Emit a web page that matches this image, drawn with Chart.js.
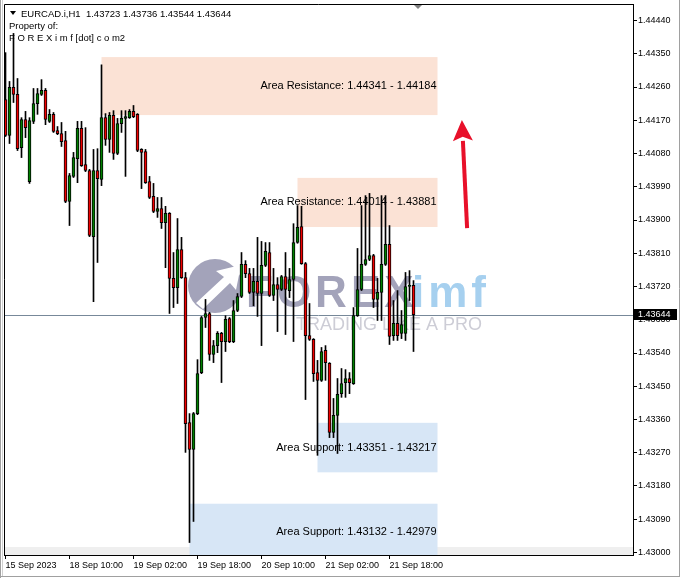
<!DOCTYPE html>
<html>
<head>
<meta charset="utf-8">
<script src="https://cdn.jsdelivr.net/npm/chart.js@4.4.0/dist/chart.umd.min.js"></script>
<style>
html, body { margin: 0; padding: 0; background: #fff; }
#wrap { width: 681px; height: 579px; position: relative; }
</style>
</head>
<body>
<div id="wrap"><canvas id="chartEurcad"></canvas></div>
<script>
var symbol = 'EURCAD.i,H1';

// H1 candles, 15 Sep 2023 18:00 .. 22 Sep
var opens = [1.44226, 1.44129, 1.44259, 1.44240, 1.44096, 1.44172, 1.44004, 1.44167, 1.44215, 1.44240,
    1.44251, 1.44167, 1.44186, 1.44142, 1.44134, 1.44115, 1.43950, 1.44018, 1.44066, 1.44148,
    1.44050, 1.44034, 1.43855, 1.44034, 1.44010, 1.44177, 1.44118, 1.44183, 1.44080, 1.44161,
    1.44175, 1.44177, 1.44194, 1.44186, 1.44091, 1.44085, 1.44004, 1.43964, 1.43923, 1.43931,
    1.43893, 1.43918, 1.43742, 1.43717, 1.43820, 1.43744, 1.43352, 1.43279, 1.43376, 1.43487,
    1.43636, 1.43647, 1.43536, 1.43560, 1.43593, 1.43571, 1.43633, 1.43571, 1.43655, 1.43693,
    1.43780, 1.43755, 1.43704, 1.43734, 1.43701, 1.43777, 1.43812, 1.43696, 1.43725, 1.43712,
    1.43747, 1.43709, 1.43739, 1.43839, 1.43882, 1.43782, 1.43587, 1.43577, 1.43487, 1.43466,
    1.43547, 1.43512, 1.43325, 1.43371, 1.43430, 1.43460, 1.43471, 1.43457, 1.43641, 1.43712,
    1.43780, 1.43793, 1.43804, 1.43685, 1.43704, 1.43780, 1.43834, 1.43587, 1.43620, 1.43593,
    1.43593, 1.43720, 1.43723];
var highs = [1.44353, 1.44275, 1.44405, 1.44283, 1.44177, 1.44194, 1.44177, 1.44256, 1.44256, 1.44280,
    1.44256, 1.44199, 1.44191, 1.44153, 1.44164, 1.44140, 1.44026, 1.44083, 1.44167, 1.44167,
    1.44150, 1.44037, 1.44091, 1.44093, 1.44320, 1.44188, 1.44191, 1.44196, 1.44175, 1.44196,
    1.44196, 1.44199, 1.44210, 1.44188, 1.44093, 1.44091, 1.44018, 1.43999, 1.43961, 1.43961,
    1.43937, 1.43920, 1.43812, 1.43904, 1.43853, 1.43758, 1.43376, 1.43379, 1.43522, 1.43639,
    1.43685, 1.43650, 1.43574, 1.43598, 1.43596, 1.43641, 1.43636, 1.43682, 1.43701, 1.43812,
    1.43790, 1.43769, 1.43769, 1.43853, 1.43842, 1.43839, 1.43839, 1.43769, 1.43744, 1.43750,
    1.43812, 1.43769, 1.43890, 1.43939, 1.43937, 1.43785, 1.43674, 1.43579, 1.43520, 1.43555,
    1.43560, 1.43514, 1.43417, 1.43471, 1.43498, 1.43495, 1.43487, 1.43663, 1.43823, 1.43939,
    1.43966, 1.43972, 1.43807, 1.43742, 1.43966, 1.43966, 1.43885, 1.43682, 1.43709, 1.43655,
    1.43758, 1.43763, 1.43736];
var lows = [1.44126, 1.44107, 1.44218, 1.44088, 1.44069, 1.44123, 1.43999, 1.44161, 1.44186, 1.44237,
    1.44158, 1.44164, 1.44137, 1.44131, 1.44099, 1.43947, 1.43885, 1.44015, 1.44001, 1.44045,
    1.44031, 1.43855, 1.43679, 1.43785, 1.43993, 1.44102, 1.44083, 1.44064, 1.44077, 1.44137,
    1.44018, 1.44175, 1.44177, 1.44085, 1.43985, 1.43999, 1.43958, 1.43920, 1.43907, 1.43877,
    1.43771, 1.43647, 1.43663, 1.43674, 1.43742, 1.43271, 1.43027, 1.43084, 1.43373, 1.43484,
    1.43609, 1.43520, 1.43514, 1.43541, 1.43460, 1.43544, 1.43568, 1.43568, 1.43652, 1.43690,
    1.43744, 1.43701, 1.43668, 1.43639, 1.43560, 1.43774, 1.43693, 1.43682, 1.43598, 1.43709,
    1.43590, 1.43690, 1.43571, 1.43837, 1.43780, 1.43414, 1.43574, 1.43463, 1.43263, 1.43463,
    1.43466, 1.43311, 1.43311, 1.43268, 1.43420, 1.43420, 1.43430, 1.43455, 1.43639, 1.43709,
    1.43777, 1.43790, 1.43663, 1.43628, 1.43628, 1.43777, 1.43563, 1.43574, 1.43574, 1.43579,
    1.43574, 1.43682, 1.43544];
var closes = [1.44129, 1.44259, 1.44240, 1.44093, 1.44172, 1.44150, 1.44169, 1.44215, 1.44242, 1.44251,
    1.44172, 1.44186, 1.44140, 1.44134, 1.44112, 1.43950, 1.44020, 1.44069, 1.44148, 1.44047,
    1.44034, 1.43858, 1.44034, 1.44012, 1.44177, 1.44118, 1.44183, 1.44080, 1.44161, 1.44175,
    1.44180, 1.44194, 1.44180, 1.44088, 1.44083, 1.44001, 1.43961, 1.43923, 1.43931, 1.43893,
    1.43918, 1.43742, 1.43717, 1.43820, 1.43744, 1.43349, 1.43279, 1.43376, 1.43484, 1.43636,
    1.43647, 1.43536, 1.43560, 1.43593, 1.43571, 1.43631, 1.43571, 1.43655, 1.43693, 1.43780,
    1.43755, 1.43704, 1.43734, 1.43701, 1.43777, 1.43815, 1.43696, 1.43725, 1.43712, 1.43747,
    1.43712, 1.43739, 1.43839, 1.43880, 1.43782, 1.43587, 1.43577, 1.43484, 1.43466, 1.43544,
    1.43514, 1.43325, 1.43371, 1.43428, 1.43457, 1.43471, 1.43460, 1.43641, 1.43712, 1.43780,
    1.43793, 1.43804, 1.43685, 1.43704, 1.43780, 1.43834, 1.43585, 1.43620, 1.43587, 1.43617,
    1.43720, 1.43723, 1.43644];

var xTickPos = [0, 16, 32, 48, 64, 80, 96];
var xTickLabels = ['15 Sep 2023', '18 Sep 10:00', '19 Sep 02:00', '19 Sep 18:00', '20 Sep 10:00', '21 Sep 02:00', '21 Sep 18:00'];
var yTicks = [1.43000, 1.43090, 1.43180, 1.43270, 1.43360, 1.43450, 1.43540, 1.43630, 1.43720,
    1.43810, 1.43900, 1.43990, 1.44080, 1.44170, 1.44260, 1.44350, 1.44440];

// zones drawn on the chart
var zoneNames = ['Area Resistance', 'Area Resistance', 'Area Support', 'Area Support'];
var zoneHigh = [1.44341, 1.44014, 1.43351, 1.43132];
var zoneLow = [1.44184, 1.43881, 1.43217, 1.42979];
var zoneStart = [24, 73, 78, 46];
var zoneEnd = 108;

var lastPrice = closes[closes.length - 1];
var arrowFrom = { x: 115.4, y: 1.43878 };
var arrowTo = { x: 114.1, y: 1.44171 };

var FONT = '"Liberation Sans", Arial, sans-serif';

var wicks = opens.map(function (o, i) { return { x: i, y: [lows[i], highs[i]] }; });
var bodies = opens.map(function (o, i) { return { x: i, y: [o, closes[i]] }; });
var bodyColors = opens.map(function (o, i) { return closes[i] >= o ? '#008000' : '#f00000'; });

function drawWatermark(c) {
    c.save();
    c.fillStyle = '#a3a3ba';
    c.beginPath();
    c.arc(215, 286, 27, 0, Math.PI * 2);
    c.fill();
    c.fillStyle = '#fff';
    c.beginPath();
    c.moveTo(196, 303); c.lineTo(224, 277); c.lineTo(216, 271); c.lineTo(241, 265);
    c.lineTo(236, 290); c.lineTo(230, 283); c.lineTo(203, 309);
    c.closePath();
    c.fill();
    c.textAlign = 'left';
    c.textBaseline = 'alphabetic';
    c.font = 'bold 44px ' + FONT;
    c.letterSpacing = '4px';
    c.fillStyle = '#a3a3ba';
    c.fillText('FOREX', 246, 307);
    c.fillStyle = '#a6d0ef';
    c.fillText('imf', 412, 307);
    c.letterSpacing = '0px';
    c.font = '18px ' + FONT;
    c.fillStyle = '#cdcdd6';
    c.fillText('TRADING LIKE A PRO', 296, 330);
    c.restore();
}

var overlay = {
    id: 'overlay',
    beforeDatasetsDraw: function (chart) {
        var c = chart.ctx, a = chart.chartArea, xs = chart.scales.x, ys = chart.scales.y;
        c.save();
        c.beginPath();
        c.rect(a.left, a.top, a.right - a.left, a.bottom - a.top);
        c.clip();
        c.fillStyle = '#efefef';
        c.fillRect(a.left, a.bottom - 8, a.right - a.left, 8);
        drawWatermark(c);
        zoneHigh.forEach(function (hi, k) {
            var x0 = xs.getPixelForValue(zoneStart[k]), x1 = xs.getPixelForValue(zoneEnd);
            var y0 = ys.getPixelForValue(hi), y1 = ys.getPixelForValue(zoneLow[k]);
            c.fillStyle = zoneNames[k].indexOf('Resistance') > 0 ? '#fbe2d5' : '#d7e6f6';
            c.fillRect(x0, y0, x1 - x0, y1 - y0);
        });
        c.font = '11px ' + FONT;
        c.fillStyle = '#000';
        c.textAlign = 'right';
        c.textBaseline = 'middle';
        zoneHigh.forEach(function (hi, k) {
            var x1 = xs.getPixelForValue(zoneEnd);
            var ym = (ys.getPixelForValue(hi) + ys.getPixelForValue(zoneLow[k])) / 2;
            c.fillText(zoneNames[k] + ': ' + hi.toFixed(5) + ' - ' + zoneLow[k].toFixed(5), x1 - 1, ym);
        });
        var yp = Math.round(ys.getPixelForValue(lastPrice)) + 0.5;
        c.strokeStyle = '#778899';
        c.lineWidth = 1;
        c.beginPath();
        c.moveTo(a.left, yp);
        c.lineTo(a.right, yp);
        c.stroke();
        c.restore();
    },
    afterDraw: function (chart) {
        var c = chart.ctx, a = chart.chartArea, xs = chart.scales.x, ys = chart.scales.y;
        c.save();
        // plot frame top + left
        c.strokeStyle = '#000';
        c.lineWidth = 1;
        c.beginPath();
        c.moveTo(a.left + 0.5, a.bottom);
        c.lineTo(a.left + 0.5, a.top + 0.5);
        c.lineTo(a.right, a.top + 0.5);
        c.stroke();

        // window frame
        c.strokeStyle = '#a0a0a0';
        c.beginPath();
        c.moveTo(0.5, 0); c.lineTo(0.5, 578);
        c.moveTo(679.5, 0); c.lineTo(679.5, 577);
        c.moveTo(0, 576.5); c.lineTo(680, 576.5);
        c.stroke();
        c.strokeStyle = '#d0d0d0';
        c.beginPath();
        c.moveTo(2.5, 0); c.lineTo(2.5, 576);
        c.stroke();

        // chart shift marker
        var sx = Math.round(xs.getPixelForValue(103));
        c.fillStyle = '#808080';
        c.beginPath();
        c.moveTo(sx - 4, a.top + 1); c.lineTo(sx + 4, a.top + 1); c.lineTo(sx, a.top + 5);
        c.closePath();
        c.fill();

        // header
        c.fillStyle = '#000';
        c.beginPath();
        c.moveTo(10, 11); c.lineTo(16, 11); c.lineTo(13, 15);
        c.closePath();
        c.fill();
        var n = closes.length - 1;
        c.font = '9.5px ' + FONT;
        c.textAlign = 'left';
        c.textBaseline = 'alphabetic';
        c.fillText(symbol + '  ' + [opens[n], highs[n], lows[n], closes[n]].map(function (v) { return v.toFixed(5); }).join(' '), 21, 16.5);
        c.fillText('Property of:', 9, 28.5);
        c.fillText('F O R E X i m f [dot] c o m2', 9, 40.5);

        // current price label
        var yp = Math.round(ys.getPixelForValue(lastPrice));
        c.fillStyle = '#000';
        c.fillRect(a.right + 1, yp - 6, 43, 11);
        c.fillStyle = '#fff';
        c.font = '9px ' + FONT;
        c.textBaseline = 'middle';
        c.fillText(lastPrice.toFixed(5), a.right + 5, yp);

        // red arrow
        var x0 = xs.getPixelForValue(arrowFrom.x), y0 = ys.getPixelForValue(arrowFrom.y);
        var x1 = xs.getPixelForValue(arrowTo.x), y1 = ys.getPixelForValue(arrowTo.y);
        var ang = Math.atan2(y1 - y0, x1 - x0);
        var hl = 21, hw = 10;
        var bx = x1 - hl * Math.cos(ang), by = y1 - hl * Math.sin(ang);
        c.strokeStyle = '#e8102a';
        c.fillStyle = '#e8102a';
        c.lineWidth = 4;
        c.beginPath();
        c.moveTo(x0, y0);
        c.lineTo(bx, by);
        c.stroke();
        c.beginPath();
        c.moveTo(x1, y1);
        c.lineTo(bx + hw * Math.sin(ang), by - hw * Math.cos(ang));
        c.lineTo(x1 - (hl - 4) * Math.cos(ang), y1 - (hl - 4) * Math.sin(ang));
        c.lineTo(bx - hw * Math.sin(ang), by + hw * Math.cos(ang));
        c.closePath();
        c.fill();
        c.restore();
    }
};

var ctx = document.getElementById('chartEurcad').getContext('2d');
var chart = new Chart(ctx, {
    type: 'bar',
    data: {
        datasets: [{
            label: 'wick',
            data: wicks,
            backgroundColor: '#000',
            barThickness: 1,
            grouped: false,
            order: 2
        }, {
            label: 'body',
            data: bodies,
            backgroundColor: bodyColors,
            borderColor: '#000',
            borderWidth: 1,
            borderSkipped: false,
            barThickness: 3,
            minBarLength: 1,
            grouped: false,
            order: 1
        }]
    },
    options: {
        responsive: true,
        maintainAspectRatio: false,
        animation: false,
        layout: { padding: { left: 4, top: 4, right: 0, bottom: 0 } },
        plugins: { legend: { display: false }, tooltip: { enabled: false } },
        scales: {
            x: {
                type: 'linear',
                min: -0.375,
                max: 156.875,
                offset: false,
                grid: { offset: false, drawOnChartArea: false, drawTicks: true, tickLength: 4, color: '#000' },
                border: { display: true, color: '#000' },
                ticks: {
                    align: 'start',
                    autoSkip: false,
                    maxRotation: 0,
                    padding: 1,
                    color: '#000',
                    font: { family: FONT, size: 9 },
                    callback: function (v, i) { return xTickLabels[i]; }
                },
                afterBuildTicks: function (s) { s.ticks = xTickPos.map(function (v) { return { value: v }; }); },
                afterFit: function (s) { s.height = 24; s.paddingLeft = 0; s.paddingRight = 0; }
            },
            y: {
                position: 'right',
                beginAtZero: false,
                min: 1.42993233,
                max: 1.44484662,
                grid: { drawOnChartArea: false, drawTicks: true, tickLength: 4, color: '#000' },
                border: { display: true, color: '#000' },
                ticks: {
                    padding: 1,
                    color: '#000',
                    font: { family: FONT, size: 9 },
                    callback: function (v) { return v.toFixed(5); }
                },
                afterBuildTicks: function (s) { s.ticks = yTicks.map(function (v) { return { value: v }; }); },
                afterFit: function (s) { s.width = 48; s.paddingTop = 0; s.paddingBottom = 0; }
            }
        }
    },
    plugins: [overlay]
});
</script>
</body>
</html>
